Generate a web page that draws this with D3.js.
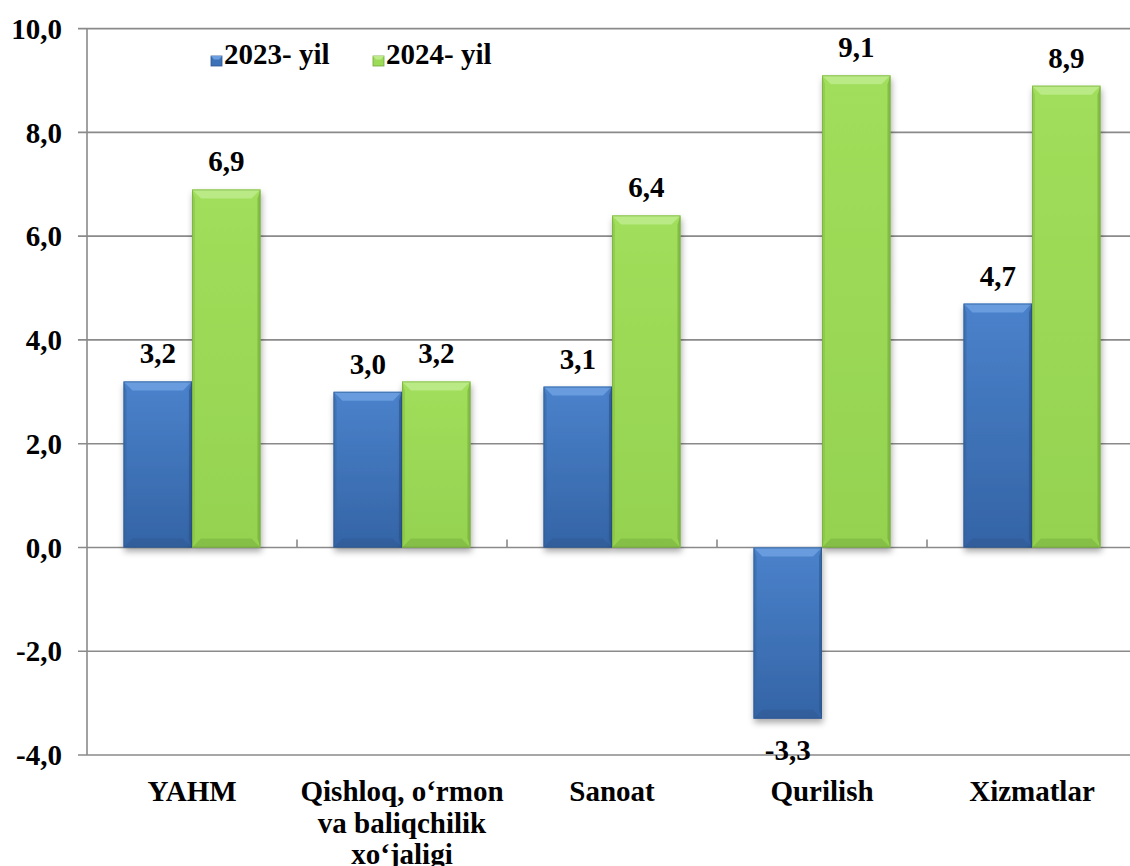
<!DOCTYPE html>
<html>
<head>
<meta charset="utf-8">
<script src="https://cdn.jsdelivr.net/npm/d3@7/dist/d3.min.js"></script>
<style>
  html, body { margin: 0; padding: 0; background: #fff; }
  svg { display: block; }
</style>
</head>
<body>
<svg id="chart" width="1130" height="866"></svg>
<script>
// ---- data ----
const categories = ["YAHM", "Qishloq, o‘rmon va baliqchilik xo‘jaligi", "Sanoat", "Qurilish", "Xizmatlar"];
const categoryLines = [["YAHM"], ["Qishloq, o‘rmon", "va baliqchilik", "xo‘jaligi"], ["Sanoat"], ["Qurilish"], ["Xizmatlar"]];
const seriesNames = ["2023- yil", "2024- yil"];
const values2023 = [3.2, 3.0, 3.1, -3.3, 4.7];
const values2024 = [6.9, 3.2, 6.4, 9.1, 8.9];
const yTicks = [-4, -2, 0, 2, 4, 6, 8, 10];

const seriesValues = [values2023, values2024];
const colors = [
  { main: "#3E72B8", top: "#6A9EE0", light: "#4A82CB", dark: "#3464A6", edge: "#2C5690", side: "#36659F" },
  { main: "#9CDB57", top: "#BDEB8A", light: "#A0DE5B", dark: "#94D250", edge: "#73A83A", side: "#86BE48" }
];

// pick an installed serif font
function pickFont() {
  const cands = ["Liberation Serif", "Tinos", "Times New Roman", "Times", "DejaVu Serif", "Noto Serif", "FreeSerif", "Nimbus Roman", "Nimbus Roman No9 L"];
  const cv = document.createElement("canvas").getContext("2d");
  const s = "Qishloq, o‘rmon 2023- yil 10,0 WMi";
  const base = [];
  ["monospace", "sans-serif"].forEach(b => { cv.font = "bold 40px " + b; base.push(cv.measureText(s).width); });
  for (const n of cands) {
    let diff = true;
    ["monospace", "sans-serif"].forEach((b, i) => {
      cv.font = `bold 40px "${n}", ${b}`;
      if (Math.abs(cv.measureText(s).width - base[i]) < 0.5) diff = false;
    });
    if (diff) return { name: `"${n}"`, serif: true };
  }
  return { name: "'Liberation Sans', Arial, sans-serif", serif: false };
}
const picked = pickFont();
const FONT = picked.name;
const FS = picked.serif ? 29 : 28;

const svg = d3.select("#chart");
const W = 1130;
const x0 = d3.scaleBand().domain(categories).range([87, 1137]).paddingInner(0).paddingOuter(0);
const x1 = d3.scaleBand().domain(seriesNames).range([36.5, 173.5]).padding(0);
const y = d3.scaleLinear().domain([-4, 10]).range([755, 28.6]);

const fmt = v => d3.format(".1f")(v).replace(".", ",").replace("−", "-");

// defs
const defs = svg.append("defs");
const f = defs.append("filter").attr("id", "shadow").attr("x", "-20%").attr("y", "-20%").attr("width", "140%").attr("height", "140%");
f.append("feDropShadow").attr("dx", 1).attr("dy", 4).attr("stdDeviation", 3).attr("flood-color", "#000").attr("flood-opacity", 0.33);
colors.forEach((c, i) => {
  const g = defs.append("linearGradient").attr("id", "grad" + i).attr("x1", 0).attr("y1", 0).attr("x2", 0).attr("y2", 1);
  g.append("stop").attr("offset", "0%").attr("stop-color", c.light);
  g.append("stop").attr("offset", "100%").attr("stop-color", c.dark);
});

// gridlines
svg.append("g").selectAll("line").data(yTicks).join("line")
  .attr("x1", 78).attr("x2", W)
  .attr("y1", d => y(d)).attr("y2", d => y(d))
  .attr("stroke", "#8A8A8A").attr("stroke-width", 1.6);

// y axis line
svg.append("line").attr("x1", 87).attr("x2", 87).attr("y1", y(10)).attr("y2", y(-4))
  .attr("stroke", "#8A8A8A").attr("stroke-width", 1.6);

// category ticks on zero line
const bounds = categories.slice(1).map(c => x0(c));
svg.append("g").selectAll("line").data(bounds).join("line")
  .attr("x1", d => d).attr("x2", d => d)
  .attr("y1", y(0)).attr("y2", y(0) - 8)
  .attr("stroke", "#8A8A8A").attr("stroke-width", 1.6);

function txt(g) {
  return g.append("text").style("font-family", FONT).style("font-weight", "bold").attr("fill", "#000");
}

// y tick labels
yTicks.forEach(d => {
  txt(svg).attr("x", 62).attr("y", y(d)).attr("dy", "0.35em")
    .attr("text-anchor", "end").attr("font-size", FS).text(fmt(d));
});

// bars with bevel
function bevelBar(g, x, w, v, ci, bev) {
  const c = colors[ci];
  const top = Math.min(y(v), y(0)), bot = Math.max(y(v), y(0));
  const h = bot - top;
  const b = Math.min(bev, h / 2, w / 2);
  const grp = g.append("g").attr("filter", "url(#shadow)");
  grp.append("rect").attr("x", x).attr("y", top).attr("width", w).attr("height", h).attr("fill", "url(#grad" + ci + ")");
  grp.append("polygon").attr("points", [[x, top], [x + w, top], [x + w - b, top + b], [x + b, top + b]].join(" ")).attr("fill", c.top).attr("opacity", 0.9);
  grp.append("polygon").attr("points", [[x, bot], [x + w, bot], [x + w - b, bot - b], [x + b, bot - b]].join(" ")).attr("fill", c.edge).attr("opacity", 0.45);
  grp.append("polygon").attr("points", [[x, top], [x + 3, top + b], [x + 3, bot - b], [x, bot]].join(" ")).attr("fill", c.side).attr("opacity", 0.5);
  grp.append("polygon").attr("points", [[x + w, top], [x + w - 3, top + b], [x + w - 3, bot - b], [x + w, bot]].join(" ")).attr("fill", c.edge).attr("opacity", 0.6);
  grp.append("rect").attr("x", x + 0.5).attr("y", top + 0.5).attr("width", w - 1).attr("height", h - 1).attr("fill", "none").attr("stroke", c.edge).attr("stroke-width", 1).attr("opacity", 0.6);
}

const barsG = svg.append("g");
seriesNames.forEach((s, si) => {
  categories.forEach((cat, ci) => {
    bevelBar(barsG, x0(cat) + x1(s), x1.bandwidth(), seriesValues[si][ci], si, 9);
  });
});

// value labels
seriesNames.forEach((s, si) => {
  categories.forEach((cat, ci) => {
    const v = seriesValues[si][ci];
    txt(svg)
      .attr("x", x0(cat) + x1(s) + x1.bandwidth() / 2)
      .attr("y", v >= 0 ? y(v) - 18 : y(v) + 41)
      .attr("text-anchor", "middle").attr("font-size", FS)
      .text(fmt(v));
  });
});

// category labels
categories.forEach((cat, ci) => {
  const cx = x0(cat) + x0.bandwidth() / 2;
  const t = txt(svg).attr("text-anchor", "middle").attr("font-size", FS).attr("x", cx).attr("y", 801);
  categoryLines[ci].forEach((line, li) => {
    t.append("tspan").attr("x", cx).attr("y", 801 + li * 31.5).text(line);
  });
});

// legend
const legX = [211, 373];
seriesNames.forEach((s, si) => {
  const c = colors[si];
  const lx = legX[si];
  svg.append("rect").attr("x", lx).attr("y", 56).attr("width", 11).attr("height", 10).attr("fill", c.main).attr("stroke", c.edge).attr("stroke-width", 0.8);
  svg.append("polygon").attr("points", [[lx, 56], [lx + 11, 56], [lx + 8, 59.5], [lx + 3, 59.5]].join(" ")).attr("fill", c.top);
  txt(svg).attr("x", lx + 13).attr("y", 64).attr("font-size", FS).text(s);
});
</script>
</body>
</html>
